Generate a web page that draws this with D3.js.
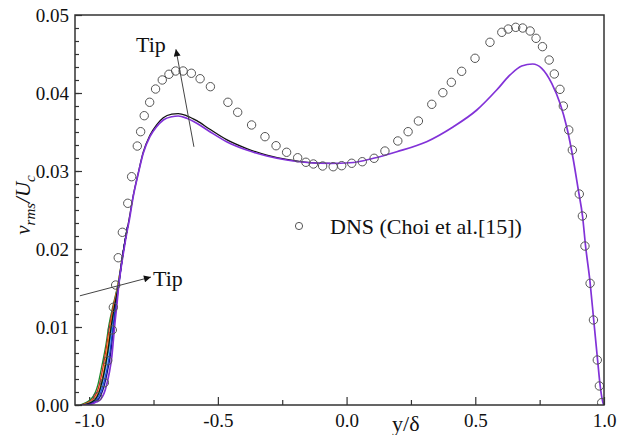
<!DOCTYPE html>
<html>
<head>
<meta charset="utf-8">
<script src="https://cdn.jsdelivr.net/npm/d3@7"></script>
<style>
body{margin:0;background:#fff;}
svg text{font-family:"Liberation Serif",serif;fill:#111;}
</style>
</head>
<body>
<div id="plot"></div>
<script>
// DNS reference points (y/delta, v_rms/U_c)
const dns = [
    [-0.967,0.00106],[-0.941,0.00286],[-0.928,0.00568],[-0.910,0.00962],[-0.906,0.01253],
    [-0.897,0.01538],[-0.887,0.01888],[-0.871,0.02214],[-0.850,0.02586],[-0.835,0.02927],
    [-0.813,0.0332],[-0.800,0.03504],[-0.786,0.03709],[-0.765,0.03881],[-0.742,0.04051],
    [-0.716,0.04167],[-0.690,0.0424],[-0.664,0.04282],[-0.635,0.04282],[-0.603,0.04253],
    [-0.569,0.04183],[-0.529,0.04081],[-0.461,0.03881],[-0.423,0.03753],[-0.369,0.0359],
    [-0.317,0.0344],[-0.274,0.03324],[-0.233,0.0324],[-0.190,0.0317],[-0.158,0.03112],
    [-0.129,0.0309],[-0.093,0.03064],[-0.052,0.03055],[-0.019,0.03068],[0.020,0.03099],
    [0.061,0.03119],[0.107,0.03163],[0.149,0.03256],[0.199,0.03385],[0.239,0.03504],
    [0.279,0.03641],[0.331,0.03855],[0.374,0.04004],[0.407,0.04137],[0.447,0.04278],
    [0.499,0.04445],[0.557,0.0465],[0.603,0.04778],[0.628,0.0482],[0.657,0.04842],
    [0.684,0.04833],[0.713,0.04795],[0.736,0.04701],[0.761,0.04594],[0.787,0.04423],
    [0.807,0.04244],[0.829,0.04047],[0.842,0.03833],[0.863,0.03526],[0.877,0.03269],
    [0.904,0.02705],[0.916,0.02423],[0.926,0.02038],[0.946,0.0156],[0.959,0.0109],
    [0.974,0.00577],[0.982,0.00244],[0.991,0.0003]
];

// LES curves, only distinct near the tip wall
const lesGreen = [[-1.036,0],[-0.989,0.0009],[-0.966,0.0026],[-0.950,0.0051],[-0.935,0.0077],[-0.923,0.0103],[-0.907,0.0128],[-0.890,0.0152],[-0.866,0.0200],[-0.850,0.0230]];
const lesRed = [[-1.030,0],[-0.985,0.0008],[-0.962,0.0024],[-0.946,0.0049],[-0.932,0.0076],[-0.920,0.0102],[-0.905,0.0128],[-0.889,0.0152],[-0.866,0.0200],[-0.850,0.0230]];
const lesOrange = [[-1.025,0],[-0.982,0.0007],[-0.958,0.0022],[-0.942,0.0046],[-0.929,0.0073],[-0.917,0.0100],[-0.903,0.0127],[-0.889,0.0151],[-0.866,0.0200],[-0.850,0.0230]];
const lesCyan = [[-1.020,0],[-0.978,0.0007],[-0.955,0.0021],[-0.938,0.0045],[-0.924,0.0071],[-0.913,0.0099],[-0.900,0.0127],[-0.888,0.0151],[-0.866,0.0200],[-0.850,0.0230]];
const lesBlue = [[-1.018,0],[-0.975,0.0006],[-0.951,0.0020],[-0.933,0.0043],[-0.919,0.0069],[-0.909,0.0097],[-0.898,0.0126],[-0.887,0.0150],[-0.866,0.0200],[-0.850,0.0230]];
const lesNavy = [[-1.015,0],[-0.972,0.0005],[-0.948,0.0018],[-0.930,0.0041],[-0.916,0.0067],[-0.906,0.0095],[-0.896,0.0124],[-0.887,0.0149],[-0.866,0.0199],[-0.850,0.0230]];

const lesBlack = [
    [-1.022,0],[-0.980,0.0006],[-0.957,0.0021],[-0.940,0.0045],[-0.926,0.0072],[-0.915,0.0099],
    [-0.902,0.0126],[-0.888,0.0150],[-0.866,0.0200],[-0.845,0.0238],[-0.829,0.0268],[-0.809,0.0298],
    [-0.790,0.0324],[-0.764,0.03458],[-0.738,0.03592],[-0.712,0.03682],[-0.679,0.03728],[-0.654,0.03736],
    [-0.621,0.03708],[-0.582,0.03645],[-0.531,0.03535],[-0.466,0.03402],[-0.388,0.03288],[-0.310,0.03204],
    [-0.233,0.03148],[-0.142,0.03108],[-0.064,0.03099]
];

const lesPurple = [
    [-1.028,0],[-0.997,0.00006],[-0.973,0.00038],[-0.958,0.00064],[-0.938,0.0019],[-0.922,0.0041],
    [-0.912,0.0062],[-0.906,0.0083],[-0.900,0.0105],[-0.893,0.0126],[-0.887,0.0147],[-0.865,0.0199],
    [-0.853,0.0222],[-0.844,0.0237],[-0.829,0.0267],[-0.809,0.0297],[-0.790,0.03227],[-0.764,0.0344],
    [-0.738,0.03568],[-0.712,0.03654],[-0.679,0.03696],[-0.654,0.03705],[-0.621,0.03676],[-0.582,0.03612],
    [-0.531,0.03504],[-0.466,0.03376],[-0.388,0.03269],[-0.310,0.03192],[-0.233,0.03141],[-0.142,0.03106],
    [-0.064,0.03099],[0.013,0.03106],[0.104,0.03163],[0.195,0.03247],[0.311,0.03376],[0.415,0.03568],
    [0.506,0.03782],[0.583,0.04038],[0.635,0.04231],[0.680,0.04346],[0.723,0.04372],[0.758,0.04317],
    [0.797,0.04124],[0.829,0.03868],[0.855,0.03568],[0.881,0.03141],[0.900,0.0276],[0.917,0.0241],
    [0.928,0.0205],[0.946,0.0157],[0.960,0.0109],[0.975,0.0058],[0.985,0.0025],[0.996,0.0003],[1.0,0]
];

const lesNames = ['green','red','orange','cyan','blue','navy','black','purple'];
const lesData = [lesGreen, lesRed, lesOrange, lesCyan, lesBlue, lesNavy, lesBlack, lesPurple];

const xTicks = [-1.0, -0.5, 0.0, 0.5, 1.0];
const yTicks = [0.00, 0.01, 0.02, 0.03, 0.04, 0.05];
const legendLabel = 'DNS (Choi et al.[15])';

// "Tip" annotations: arrow [from, to] and label anchor, in data units
const tipArrows = [
    [[-0.593,0.0331],[-0.663,0.0456]],
    [[-1.036,0.0140],[-0.760,0.0164]]
];
const tipLabels = [[-0.818,0.0453],[-0.752,0.01526]];

let svgWidth = 619;
let svgHeight = 435;
let margin = {top:15, right:15, bottom:30, left:75};
let width = svgWidth - margin.left - margin.right;
let height = svgHeight - margin.top - margin.bottom;

let svg = d3.select('#plot')
            .append('svg')
                .attr('width', svgWidth)
                .attr('height', svgHeight)
                .append('g')
                    .attr('transform', `translate(${margin.left}, ${margin.top})`);

let x = d3.scaleLinear().domain([-1.055, 1.0]).range([0, width]);
let y = d3.scaleLinear().domain([0, 0.05]).range([height, 0]);

let color = d3.scaleOrdinal()
    .domain(lesNames)
    .range(['#1a8a2a', '#d42a20', '#f0901a', '#20b8c8', '#2050e0', '#141488', '#111111', '#8232d8']);

let defs = svg.append('defs');
defs.append('clipPath').attr('id', 'clip')
    .append('rect').attr('width', width).attr('height', height);
defs.append('marker')
    .attr('id', 'arrow')
    .attr('viewBox', '0 0 10 10')
    .attr('refX', 10).attr('refY', 5)
    .attr('markerWidth', 9).attr('markerHeight', 7)
    .attr('markerUnits', 'userSpaceOnUse')
    .attr('orient', 'auto')
    .append('path').attr('d', 'M0,0L10,5L0,10z').attr('fill', '#111');

// minor + major ticks, pointing inward
svg.append('g')
    .attr('transform', `translate(0,${height})`)
    .call(d3.axisBottom(x).tickValues([-0.75, -0.25, 0.25, 0.75]).tickSize(-5).tickFormat(''))
    .call(g => g.select('.domain').remove());
svg.append('g')
    .attr('transform', `translate(0,${height})`)
    .call(d3.axisBottom(x).tickValues(xTicks).tickSize(-8).tickPadding(9).tickFormat(d => d.toFixed(1)))
    .call(g => g.select('.domain').remove())
    .selectAll('text').attr('font-size', 19).attr('font-family', '"Liberation Serif",serif').attr('fill', '#111');

svg.append('g')
    .call(d3.axisLeft(y).tickValues(d3.range(0, 0.05, 0.01 / 6)).tickSize(-4).tickFormat(''))
    .call(g => g.select('.domain').remove());
svg.append('g')
    .call(d3.axisLeft(y).tickValues(yTicks).tickSize(-7).tickPadding(6).tickFormat(d => d.toFixed(2)))
    .call(g => g.select('.domain').remove())
    .selectAll('text').attr('font-size', 19).attr('font-family', '"Liberation Serif",serif').attr('fill', '#111');

svg.selectAll('.tick line').attr('stroke', '#333').attr('stroke-width', 1.2);

let line = d3.line()
    .x(d => x(d[0]))
    .y(d => y(d[1]))
    .curve(d3.curveMonotoneX);

let plot = svg.append('g').attr('clip-path', 'url(#clip)');

plot.selectAll('path.les')
    .data(lesData)
    .join('path')
        .attr('class', 'les')
        .attr('d', line)
        .attr('fill', 'none')
        .attr('stroke', (d, i) => color(lesNames[i]))
        .attr('stroke-width', (d, i) => lesNames[i] === 'purple' ? 1.7 : 1.3);

plot.selectAll('circle.dns')
    .data(dns)
    .join('circle')
        .attr('class', 'dns')
        .attr('cx', d => x(d[0]))
        .attr('cy', d => y(d[1]))
        .attr('r', 4.2)
        .attr('fill', 'none')
        .attr('stroke', '#555')
        .attr('stroke-width', 1);

// frame
svg.append('rect')
    .attr('width', width)
    .attr('height', height)
    .attr('fill', 'none')
    .attr('stroke', '#333')
    .attr('stroke-width', 1.5);

// annotations
svg.selectAll('line.tip')
    .data(tipArrows)
    .join('line')
        .attr('class', 'tip')
        .attr('x1', d => x(d[0][0])).attr('y1', d => y(d[0][1]))
        .attr('x2', d => x(d[1][0])).attr('y2', d => y(d[1][1]))
        .attr('stroke', '#444')
        .attr('stroke-width', 1)
        .attr('marker-end', 'url(#arrow)');

svg.selectAll('text.tip')
    .data(tipLabels)
    .join('text')
        .attr('class', 'tip')
        .attr('x', d => x(d[0]))
        .attr('y', d => y(d[1]))
        .attr('font-size', 22)
        .text('Tip');

// legend
let legend = svg.append('g').attr('transform', `translate(${299 - margin.left},${226 - margin.top})`);
legend.append('circle').attr('r', 3.6).attr('fill', 'none').attr('stroke', '#555').attr('stroke-width', 1);
legend.append('text')
    .attr('x', 31)
    .attr('dy', '0.35em')
    .attr('font-size', 22)
    .text(legendLabel);

// axis titles
svg.append('text')
    .attr('x', x(0.23))
    .attr('y', height + 26)
    .attr('font-size', 22)
    .attr('text-anchor', 'middle')
    .text('y/δ');

let ylab = svg.append('text')
    .attr('transform', `translate(${30 - margin.left},${205 - margin.top}) rotate(-90)`)
    .attr('text-anchor', 'middle')
    .attr('font-size', 21)
    .attr('font-style', 'italic');
ylab.append('tspan').text('v');
ylab.append('tspan').attr('font-size', 15).attr('dy', 5).text('rms');
ylab.append('tspan').attr('dy', -5).text('/U');
ylab.append('tspan').attr('font-size', 15).attr('dy', 5).text('c');
</script>
</body>
</html>
